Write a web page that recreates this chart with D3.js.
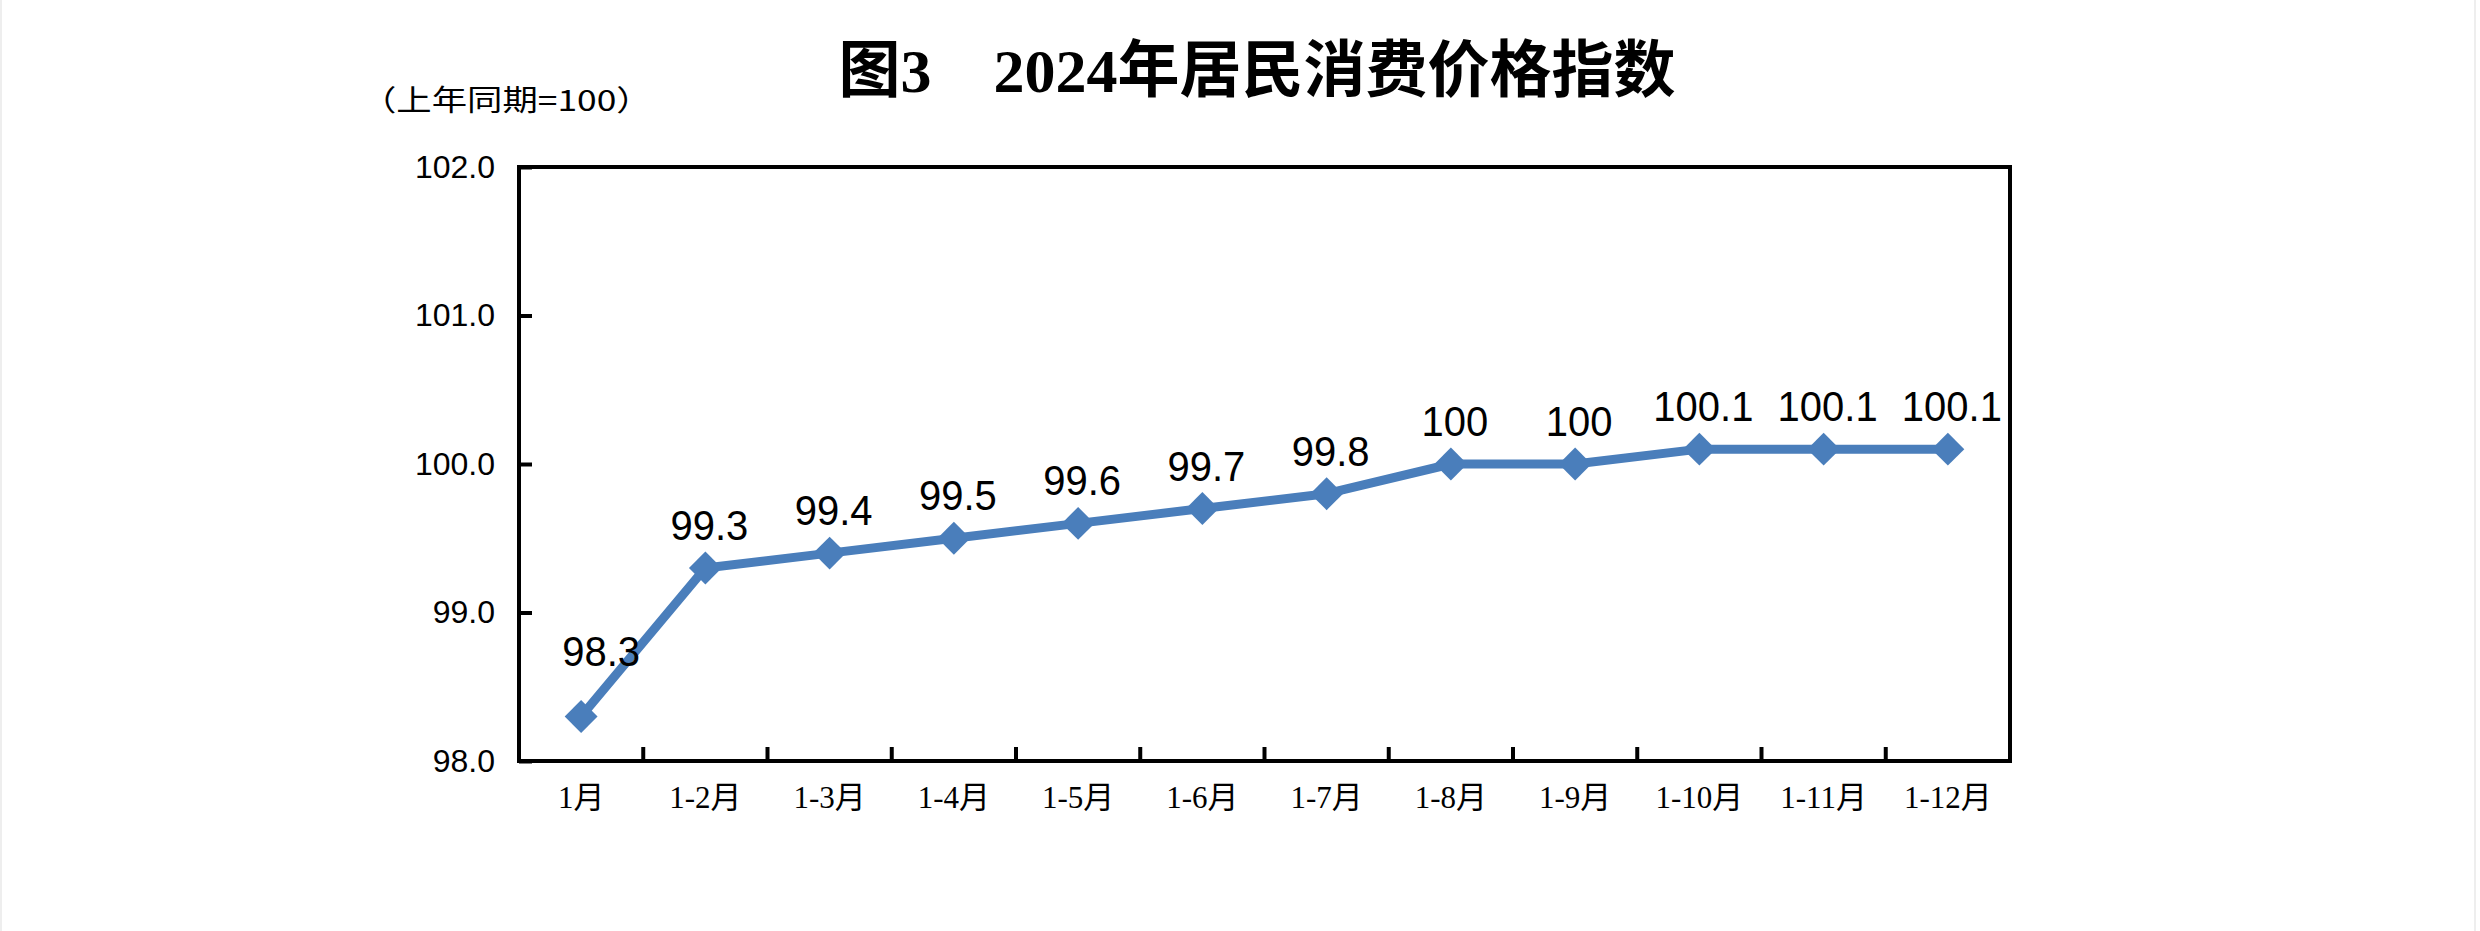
<!DOCTYPE html>
<html>
<head>
<meta charset="utf-8">
<script src="https://cdn.jsdelivr.net/npm/d3@7"></script>
<style>
  body { margin: 0; background: #fff; }
</style>
</head>
<body>
<div id="chart"></div>
<script>
// data
var months = ["1月", "1-2月", "1-3月", "1-4月", "1-5月", "1-6月", "1-7月", "1-8月", "1-9月", "1-10月", "1-11月", "1-12月"];
var cpi = [98.3, 99.3, 99.4, 99.5, 99.6, 99.7, 99.8, 100, 100, 100.1, 100.1, 100.1];
var yTicks = [98.0, 99.0, 100.0, 101.0, 102.0];

var W = 2480, H = 931;
var margin = {top: 167, right: 470, bottom: 170, left: 519},
    width = W - margin.left - margin.right,
    height = H - margin.top - margin.bottom;

var svg = d3.select("#chart")
  .append("svg")
    .attr("width", W)
    .attr("height", H);

// faint page edges
svg.append("line").attr("x1", 1).attr("x2", 1).attr("y1", 0).attr("y2", H)
  .attr("stroke", "#eeeeee").attr("stroke-width", 2);
svg.append("line").attr("x1", 2475).attr("x2", 2475).attr("y1", 0).attr("y2", H)
  .attr("stroke", "#eeeeee").attr("stroke-width", 2);

// title
svg.append("text")
  .attr("x", 1257)
  .attr("y", 92)
  .attr("text-anchor", "middle")
  .style("font-family", "'Liberation Serif', 'Noto Sans CJK SC'")
  .style("font-weight", "700")
  .style("font-size", "62px")
  .text("图3　2024年居民消费价格指数");

// unit note
svg.append("text")
  .attr("transform", "translate(361,111) scale(1.22,1)")
  .style("font-family", "'Noto Sans CJK SC'")
  .style("font-size", "29px")
  .text("（上年同期=100）");

var g = svg.append("g")
  .attr("transform", "translate(" + margin.left + "," + margin.top + ")");

var x = d3.scaleBand()
  .domain(months)
  .range([0, width])
  .padding(0);

var y = d3.scaleLinear()
  .domain([98, 102])
  .range([height, 0]);

// Y axis
var yAxis = g.append("g")
  .call(d3.axisLeft(y).tickValues(yTicks).tickSize(-13).tickPadding(24)
    .tickFormat(d3.format(".1f")));
yAxis.select(".domain").remove();
yAxis.selectAll("line").attr("stroke", "#000").attr("stroke-width", 4);
yAxis.selectAll("text")
  .style("font-family", "'Liberation Sans', Arial")
  .style("font-size", "32px")
  .attr("fill", "#000");

// X axis labels
var xAxis = g.append("g")
  .attr("transform", "translate(0," + height + ")")
  .call(d3.axisBottom(x).tickSize(0).tickPadding(25));
xAxis.select(".domain").remove();
xAxis.selectAll("text")
  .style("font-family", "'Liberation Serif', 'Noto Sans CJK SC'")
  .style("font-size", "31px")
  .attr("fill", "#000");

// X ticks on category boundaries, pointing up
g.selectAll("xtick")
  .data(months.slice(1))
  .enter()
  .append("line")
    .attr("x1", function(d) { return x(d); })
    .attr("x2", function(d) { return x(d); })
    .attr("y1", height)
    .attr("y2", height - 14)
    .attr("stroke", "#000")
    .attr("stroke-width", 4);

// frame
g.append("rect")
  .attr("x", 0)
  .attr("y", 0)
  .attr("width", width)
  .attr("height", height)
  .attr("fill", "none")
  .attr("stroke", "#000")
  .attr("stroke-width", 4);

// line
var line = d3.line()
  .x(function(d, i) { return x(months[i]) + x.bandwidth() / 2; })
  .y(function(d) { return y(d); });

g.append("path")
  .datum(cpi)
  .attr("d", line)
  .attr("fill", "none")
  .attr("stroke", "#4a7ebb")
  .attr("stroke-width", 9)
  .attr("stroke-linejoin", "round");

// diamond markers
var diamond = d3.symbol().type(d3.symbolSquare).size(540);
g.selectAll("marker")
  .data(cpi)
  .enter()
  .append("path")
    .attr("d", diamond)
    .attr("transform", function(d, i) {
      return "translate(" + (x(months[i]) + x.bandwidth() / 2) + "," + y(d) + ") rotate(45)";
    })
    .attr("fill", "#4a7ebb");

// value labels
g.selectAll("vlabel")
  .data(cpi)
  .enter()
  .append("text")
    .attr("transform", function(d, i) {
      var lx = x(months[i]) + x.bandwidth() / 2 + (i === 0 ? 20 : 4);
      var ly = y(d) - (i === 0 ? 50 : 28);
      return "translate(" + lx + "," + ly + ") scale(0.93,1)";
    })
    .attr("text-anchor", "middle")
    .style("font-family", "'Liberation Sans', Arial")
    .style("font-size", "43px")
    .attr("fill", "#000")
    .text(function(d) { return d; });
</script>
</body>
</html>
